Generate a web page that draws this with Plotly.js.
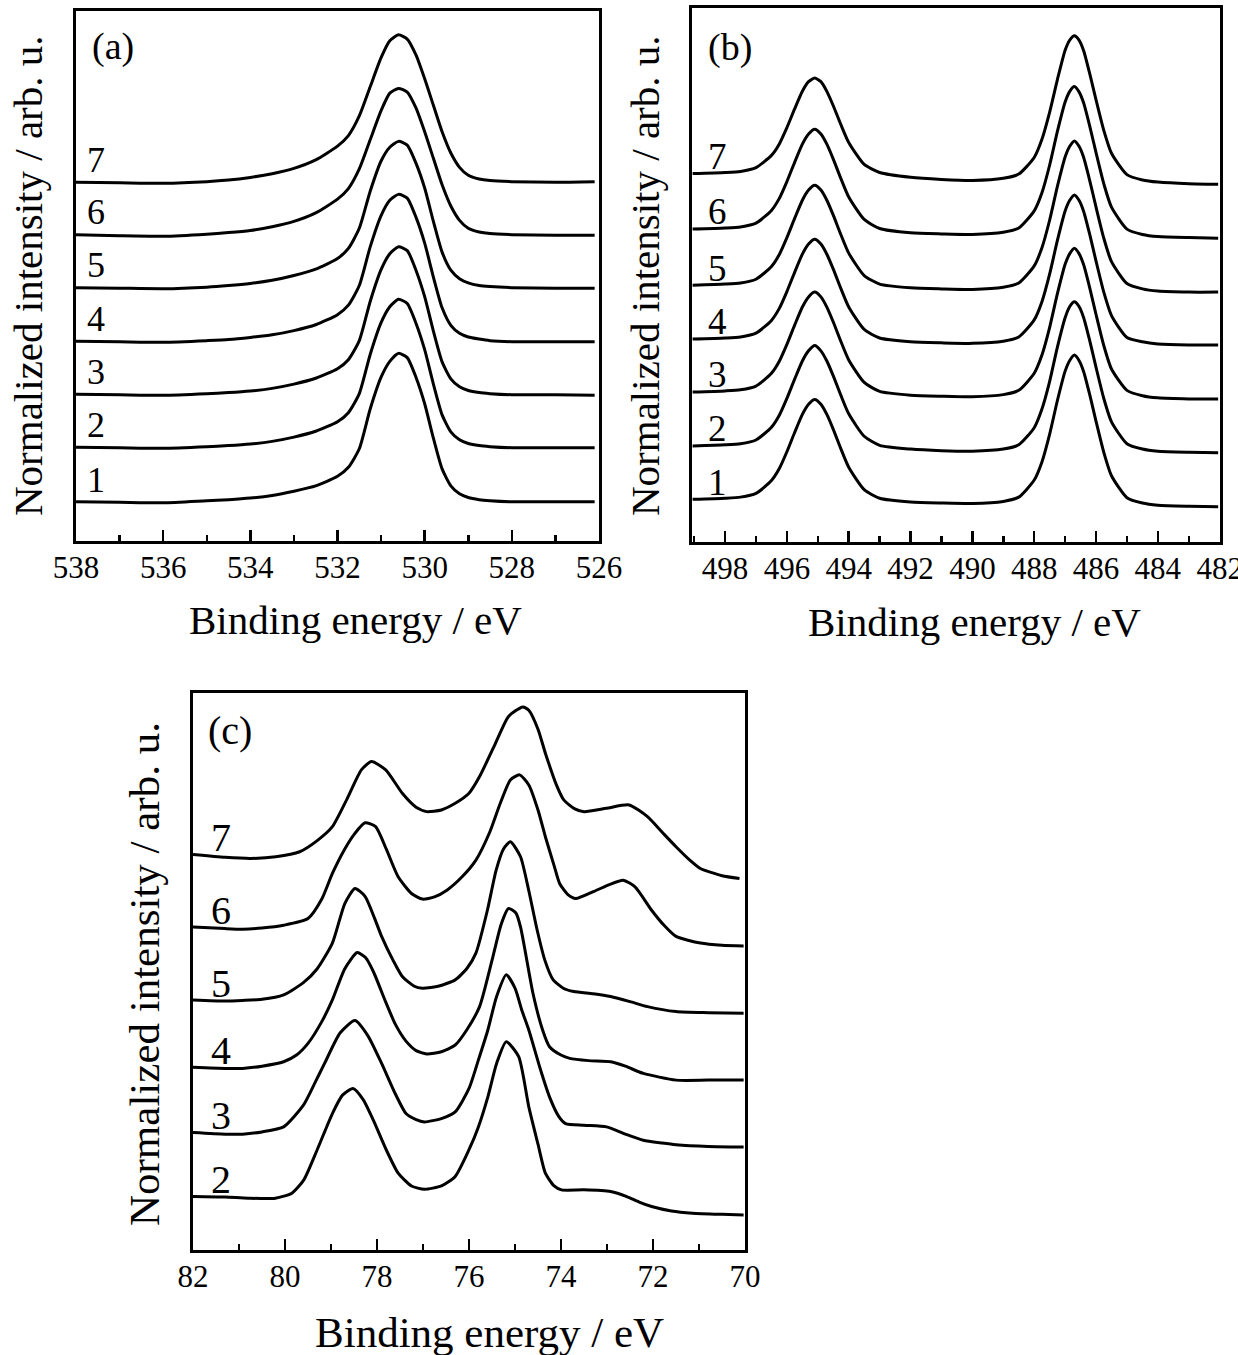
<!DOCTYPE html>
<html><head><meta charset="utf-8">
<script src="https://cdn.plot.ly/plotly-3.0.1.min.js"></script>
<style>html,body{margin:0;padding:0;background:#fff}#chart{width:1238px;height:1355px}</style>
</head><body><div id="chart"></div>
<script>
// ---------- Panel (a) ----------
const energyA = [538, 537, 536, 535, 534.5, 534, 533.5, 533, 532.5, 532, 531.75, 531.5, 531.25, 531, 530.8, 530.6, 530.4, 530.2, 530, 529.8, 529.6, 529.4, 529.2, 529, 528.75, 528.5, 528, 527, 526.1];
const a1 = [0.74, 0.73, 0.72, 0.76, 0.78, 0.81, 0.86, 0.94, 1.04, 1.22, 1.39, 1.74, 2.49, 3.09, 3.39, 3.54, 3.46, 3.09, 2.59, 1.94, 1.36, 1.04, 0.89, 0.82, 0.78, 0.76, 0.74, 0.74, 0.74];
const a2 = [1.77, 1.76, 1.75, 1.78, 1.80, 1.83, 1.88, 1.96, 2.07, 2.25, 2.42, 2.78, 3.52, 4.12, 4.42, 4.56, 4.48, 4.11, 3.61, 2.96, 2.38, 2.06, 1.91, 1.84, 1.80, 1.78, 1.76, 1.76, 1.76];
const a3 = [2.77, 2.76, 2.75, 2.78, 2.80, 2.83, 2.88, 2.96, 3.07, 3.25, 3.42, 3.78, 4.52, 5.12, 5.42, 5.55, 5.48, 5.11, 4.61, 3.96, 3.38, 3.06, 2.91, 2.84, 2.80, 2.78, 2.76, 2.76, 2.75];
const a4 = [3.77, 3.76, 3.75, 3.78, 3.80, 3.84, 3.89, 3.97, 4.08, 4.27, 4.45, 4.82, 5.55, 6.14, 6.43, 6.54, 6.47, 6.11, 5.62, 4.98, 4.40, 4.07, 3.92, 3.85, 3.81, 3.78, 3.76, 3.76, 3.76];
const a5 = [4.78, 4.77, 4.76, 4.79, 4.82, 4.86, 4.92, 5.01, 5.13, 5.33, 5.52, 5.90, 6.60, 7.17, 7.43, 7.54, 7.47, 7.13, 6.66, 6.03, 5.45, 5.11, 4.95, 4.87, 4.82, 4.80, 4.78, 4.77, 4.77];
const a6 = [5.78, 5.76, 5.75, 5.79, 5.82, 5.86, 5.93, 6.03, 6.19, 6.45, 6.65, 7.02, 7.57, 8.12, 8.45, 8.54, 8.47, 8.17, 7.72, 7.22, 6.72, 6.32, 6.05, 5.90, 5.83, 5.80, 5.78, 5.77, 5.77];
const a7 = [6.77, 6.76, 6.75, 6.78, 6.81, 6.86, 6.93, 7.03, 7.19, 7.45, 7.65, 8.02, 8.57, 9.12, 9.44, 9.55, 9.47, 9.17, 8.72, 8.22, 7.72, 7.32, 7.05, 6.90, 6.83, 6.80, 6.78, 6.77, 6.78];

// ---------- Panel (b) ----------
const energyB = [499.05, 498, 497.5, 497, 496.5, 496.25, 496, 495.75, 495.5, 495.3, 495.1, 494.9, 494.7, 494.5, 494.25, 494, 493.5, 493, 492, 491, 490, 489, 488.5, 488, 487.75, 487.5, 487.25, 487, 486.85, 486.7, 486.55, 486.4, 486.2, 486, 485.75, 485.5, 485, 484.5, 484, 483, 482.05];
const b1 = [0.80, 0.82, 0.84, 0.91, 1.15, 1.37, 1.69, 2.05, 2.39, 2.58, 2.67, 2.58, 2.38, 2.11, 1.74, 1.40, 0.98, 0.82, 0.75, 0.73, 0.72, 0.76, 0.84, 1.16, 1.50, 2.02, 2.65, 3.20, 3.40, 3.50, 3.40, 3.19, 2.75, 2.26, 1.68, 1.24, 0.83, 0.73, 0.69, 0.67, 0.66];
const b2 = [1.80, 1.82, 1.84, 1.91, 2.15, 2.37, 2.69, 3.05, 3.39, 3.58, 3.68, 3.58, 3.38, 3.11, 2.74, 2.40, 1.98, 1.81, 1.74, 1.71, 1.70, 1.74, 1.82, 2.14, 2.49, 3.01, 3.65, 4.20, 4.41, 4.50, 4.41, 4.20, 3.76, 3.27, 2.69, 2.25, 1.84, 1.74, 1.70, 1.68, 1.67];
const b3 = [2.81, 2.83, 2.85, 2.92, 3.16, 3.38, 3.70, 4.06, 4.40, 4.59, 4.68, 4.59, 4.39, 4.12, 3.75, 3.41, 2.99, 2.82, 2.75, 2.73, 2.72, 2.76, 2.84, 3.16, 3.50, 4.02, 4.65, 5.20, 5.40, 5.50, 5.40, 5.19, 4.75, 4.26, 3.68, 3.24, 2.84, 2.74, 2.70, 2.68, 2.68];
const b4 = [3.80, 3.82, 3.84, 3.91, 4.15, 4.37, 4.69, 5.05, 5.39, 5.58, 5.67, 5.58, 5.38, 5.11, 4.74, 4.40, 3.98, 3.82, 3.75, 3.73, 3.72, 3.76, 3.84, 4.16, 4.50, 5.02, 5.65, 6.20, 6.40, 6.50, 6.40, 6.19, 5.75, 5.26, 4.68, 4.24, 3.83, 3.75, 3.71, 3.69, 3.69];
const b5 = [4.81, 4.83, 4.85, 4.92, 5.16, 5.38, 5.70, 6.06, 6.40, 6.59, 6.68, 6.59, 6.39, 6.12, 5.75, 5.41, 4.99, 4.83, 4.76, 4.74, 4.73, 4.77, 4.85, 5.17, 5.51, 6.03, 6.66, 7.21, 7.41, 7.51, 7.41, 7.20, 6.76, 6.27, 5.69, 5.25, 4.84, 4.74, 4.70, 4.68, 4.68];
const b6 = [5.86, 5.88, 5.90, 5.97, 6.21, 6.43, 6.75, 7.11, 7.45, 7.64, 7.73, 7.64, 7.44, 7.17, 6.80, 6.46, 6.04, 5.87, 5.79, 5.77, 5.76, 5.80, 5.88, 6.20, 6.54, 7.06, 7.69, 8.24, 8.44, 8.53, 8.43, 8.22, 7.78, 7.29, 6.71, 6.27, 5.86, 5.76, 5.72, 5.70, 5.69];
const b7 = [6.90, 6.92, 6.94, 7.01, 7.24, 7.45, 7.76, 8.11, 8.44, 8.62, 8.69, 8.62, 8.43, 8.17, 7.81, 7.48, 7.07, 6.92, 6.83, 6.79, 6.77, 6.81, 6.89, 7.20, 7.54, 8.05, 8.66, 9.21, 9.40, 9.48, 9.40, 9.20, 8.76, 8.28, 7.71, 7.28, 6.88, 6.78, 6.74, 6.71, 6.70];

// ---------- Panel (c) ----------
const c2x = [82.0, 81.3, 80.8, 80.21, 79.85, 79.59, 79.3, 78.97, 78.75, 78.52, 78.3, 78.08, 77.8, 77.54, 77.25, 76.97, 76.6, 76.3, 76.0, 75.8, 75.59, 75.4, 75.19, 74.92, 74.7, 74.5, 74.34, 74.15, 73.99, 73.5, 72.92, 72.57, 72.3, 72.03, 71.6, 71.14, 70.5, 70.03];
const c2y = [0.96, 0.95, 0.93, 0.93, 1.02, 1.26, 1.80, 2.45, 2.78, 2.90, 2.70, 2.33, 1.80, 1.38, 1.15, 1.09, 1.15, 1.32, 1.80, 2.20, 2.75, 3.35, 3.74, 3.47, 2.57, 1.90, 1.38, 1.15, 1.08, 1.08, 1.05, 0.96, 0.86, 0.78, 0.70, 0.66, 0.64, 0.63];
const c3x = [82.0, 81.3, 80.92, 80.5, 80.03, 79.6, 79.35, 79.14, 78.8, 78.48, 78.2, 77.9, 77.6, 77.37, 77.15, 76.97, 76.6, 76.3, 76.0, 75.8, 75.59, 75.4, 75.19, 75.0, 74.85, 74.7, 74.45, 74.25, 74.05, 73.9, 73.5, 73.01, 72.6, 72.21, 71.8, 71.5, 70.8, 70.03];
const c3y = [2.11, 2.08, 2.08, 2.12, 2.21, 2.60, 3.00, 3.35, 3.90, 4.12, 3.85, 3.35, 2.80, 2.45, 2.34, 2.30, 2.36, 2.48, 2.90, 3.40, 3.95, 4.55, 4.94, 4.70, 4.30, 3.95, 3.25, 2.75, 2.40, 2.27, 2.24, 2.21, 2.08, 1.97, 1.92, 1.89, 1.86, 1.85];
const c4x = [82.0, 81.3, 80.92, 80.5, 80.03, 79.75, 79.5, 79.2, 78.97, 78.7, 78.43, 78.25, 78.08, 77.81, 77.6, 77.37, 77.15, 76.92, 76.6, 76.3, 76.05, 75.77, 75.5, 75.3, 75.14, 74.98, 74.88, 74.61, 74.4, 74.25, 74.0, 73.81, 73.4, 72.92, 72.6, 72.21, 71.5, 70.8, 70.03];
const c4y = [3.28, 3.26, 3.26, 3.30, 3.38, 3.50, 3.71, 4.10, 4.49, 5.05, 5.34, 5.25, 5.00, 4.45, 4.05, 3.75, 3.58, 3.52, 3.56, 3.68, 3.95, 4.37, 5.20, 5.85, 6.13, 6.05, 5.80, 4.61, 3.95, 3.65, 3.50, 3.44, 3.40, 3.38, 3.30, 3.17, 3.05, 3.05, 3.05];
const c5x = [82.0, 81.3, 80.92, 80.5, 80.03, 79.6, 79.3, 78.97, 78.7, 78.48, 78.26, 78.05, 77.9, 77.65, 77.45, 77.2, 77.01, 76.65, 76.3, 76.05, 75.85, 75.6, 75.41, 75.25, 75.1, 74.88, 74.7, 74.52, 74.35, 74.17, 73.95, 73.72, 73.3, 72.92, 72.5, 72.12, 71.5, 70.8, 70.03];
const c5y = [4.49, 4.47, 4.48, 4.50, 4.58, 4.80, 5.05, 5.51, 6.22, 6.49, 6.35, 5.95, 5.63, 5.20, 4.91, 4.74, 4.70, 4.74, 4.85, 5.05, 5.33, 6.10, 6.82, 7.20, 7.33, 7.06, 6.45, 5.75, 5.20, 4.85, 4.70, 4.64, 4.60, 4.55, 4.46, 4.37, 4.28, 4.26, 4.25];
const c6x = [82.0, 81.3, 80.92, 80.5, 80.03, 79.5, 79.2, 78.97, 78.7, 78.48, 78.26, 78.03, 77.8, 77.54, 77.25, 77.01, 76.75, 76.48, 76.15, 75.85, 75.55, 75.32, 75.1, 74.9, 74.7, 74.5, 74.34, 74.15, 74.03, 73.85, 73.68, 73.28, 72.95, 72.65, 72.39, 72.03, 71.75, 71.5, 70.97, 70.5, 70.03];
const c6y = [5.80, 5.77, 5.76, 5.78, 5.83, 5.95, 6.30, 6.76, 7.20, 7.48, 7.67, 7.60, 7.20, 6.70, 6.40, 6.30, 6.34, 6.46, 6.70, 7.00, 7.50, 8.02, 8.44, 8.53, 8.35, 7.90, 7.42, 6.90, 6.58, 6.38, 6.31, 6.44, 6.56, 6.64, 6.52, 6.10, 5.82, 5.63, 5.51, 5.47, 5.46];
const c7x = [82.0, 81.3, 80.74, 80.2, 79.68, 79.3, 78.97, 78.65, 78.34, 78.12, 77.81, 77.45, 77.15, 76.92, 76.6, 76.3, 76.0, 75.77, 75.45, 75.14, 74.83, 74.7, 74.5, 74.34, 74.1, 73.94, 73.7, 73.5, 73.01, 72.52, 72.12, 71.8, 71.5, 71.2, 70.97, 70.5, 70.12];
const c7y = [7.10, 7.05, 7.03, 7.06, 7.15, 7.35, 7.60, 8.10, 8.62, 8.77, 8.62, 8.20, 7.95, 7.87, 7.90, 8.02, 8.20, 8.50, 9.05, 9.58, 9.75, 9.69, 9.35, 8.92, 8.35, 8.08, 7.92, 7.87, 7.93, 7.99, 7.78, 7.50, 7.24, 7.00, 6.85, 6.72, 6.67];

// ---------- Labels ----------
const panelLabels = ['(a)', '(b)', '(c)'];
const labelsAB = ['1', '2', '3', '4', '5', '6', '7'];
const labelsC = ['2', '3', '4', '5', '6', '7'];
const xTitle = 'Binding energy / eV';
const yTitle = 'Normalized intensity / arb. u.';

// ---------- Build figure ----------
const W = 1238, H = 1355;
const px = v => v / W;
const py = v => 1 - v / H;
const FONT = 'Liberation Serif, Times New Roman, serif';
const LINE = {color: '#000', width: 3, shape: 'spline', smoothing: 0.6};

const seriesA = [a1, a2, a3, a4, a5, a6, a7];
const seriesB = [b1, b2, b3, b4, b5, b6, b7];
const seriesC = [[c2x, c2y], [c3x, c3y], [c4x, c4y], [c5x, c5y], [c6x, c6y], [c7x, c7y]];

const traces = [];
seriesA.forEach((y, i) => traces.push({x: energyA, y, xaxis: 'x', yaxis: 'y', mode: 'lines', line: LINE, name: 'a' + labelsAB[i], hoverinfo: 'skip'}));
seriesB.forEach((y, i) => traces.push({x: energyB, y, xaxis: 'x2', yaxis: 'y2', mode: 'lines', line: LINE, name: 'b' + labelsAB[i], hoverinfo: 'skip'}));
seriesC.forEach((s, i) => traces.push({x: s[0], y: s[1], xaxis: 'x3', yaxis: 'y3', mode: 'lines', line: LINE, name: 'c' + labelsC[i], hoverinfo: 'skip'}));

function xAxis(dom, range, anchor) {
  return {domain: dom, range, anchor, showgrid: false, zeroline: false, showline: true,
    linecolor: '#000', linewidth: 3, mirror: true, ticks: 'inside', ticklen: 11, tickwidth: 2.5,
    tickcolor: '#000', tick0: 0, dtick: 2, ticklabelstandoff: -3, ticklabeloverflow: 'allow',
    tickfont: {family: FONT, size: 31, color: '#000'},
    minor: {tick0: 0, dtick: 1, ticks: 'inside', ticklen: 6, tickwidth: 2.5, tickcolor: '#000', showgrid: false},
    fixedrange: true};
}
function yAxis(dom, anchor) {
  return {domain: dom, range: [0, 10], anchor, showgrid: false, zeroline: false, showline: true,
    linecolor: '#000', linewidth: 3, mirror: true, ticks: '', showticklabels: false, fixedrange: true};
}

const ann = [];
function txt(text, x, y, size, extra) {
  ann.push(Object.assign({text, x, y, xref: 'paper', yref: 'paper', showarrow: false,
    xanchor: 'center', yanchor: 'middle', font: {family: FONT, size, color: '#000'}}, extra || {}));
}
txt(panelLabels[0], px(113), py(47), 38);
txt(panelLabels[1], px(730), py(48), 38);
txt(panelLabels[2], px(230), py(730), 40);
txt(xTitle, px(355), py(620), 41);
txt(xTitle, px(974), py(622), 41);
txt(xTitle, px(489), py(1332), 43);
txt(yTitle, px(28), py(276), 41, {textangle: -90});
txt(yTitle, px(645), py(276), 41, {textangle: -90});
txt(yTitle, px(144), py(974), 43, {textangle: -90});
seriesA.forEach((y, i) => ann.push({text: labelsAB[i], x: 537.54, y: y[0] + 0.42, xref: 'x', yref: 'y', showarrow: false, xanchor: 'center', yanchor: 'middle', font: {family: FONT, size: 36, color: '#000'}}));
seriesB.forEach((y, i) => ann.push({text: labelsAB[i], x: 498.23, y: y[0] + 0.32, xref: 'x2', yref: 'y2', showarrow: false, xanchor: 'center', yanchor: 'middle', font: {family: FONT, size: 37, color: '#000'}}));
seriesC.forEach((s, i) => ann.push({text: labelsC[i], x: 81.39, y: s[1][0] + 0.3, xref: 'x3', yref: 'y3', showarrow: false, xanchor: 'center', yanchor: 'middle', font: {family: FONT, size: 40, color: '#000'}}));

const layout = {
  width: W, height: H, margin: {l: 0, r: 0, t: 0, b: 0},
  paper_bgcolor: '#fff', plot_bgcolor: '#fff', showlegend: false,
  font: {family: FONT, color: '#000'},
  xaxis: xAxis([px(76), px(599)], [538, 526], 'y'),
  yaxis: yAxis([py(541), py(11)], 'x'),
  xaxis2: xAxis([px(692), px(1220)], [499.07, 481.99], 'y2'),
  yaxis2: yAxis([py(542), py(8)], 'x2'),
  xaxis3: xAxis([px(193), px(745)], [82, 70], 'y3'),
  yaxis3: yAxis([py(1250), py(693)], 'x3'),
  annotations: ann
};
Plotly.newPlot('chart', traces, layout, {displayModeBar: false, staticPlot: true});
</script></body></html>
